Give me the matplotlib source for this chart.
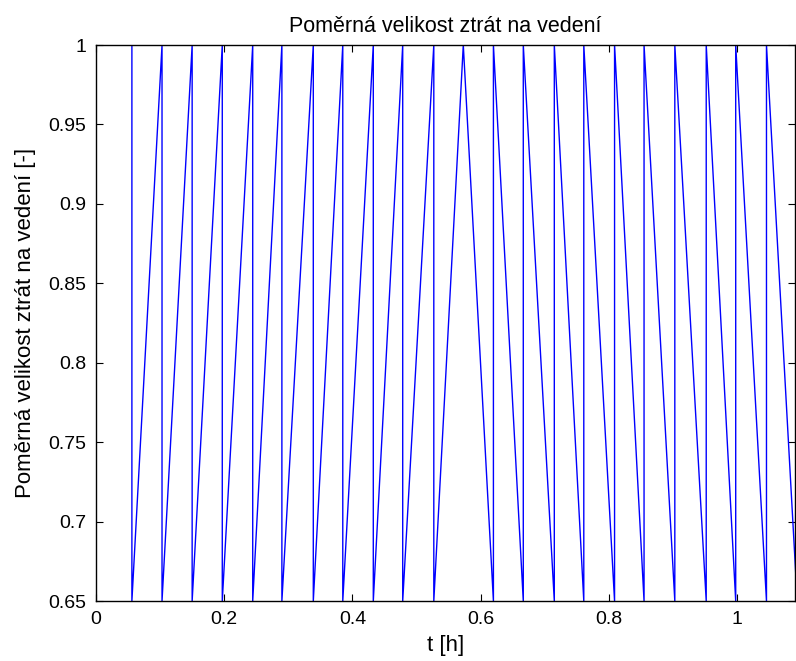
import numpy as np
import matplotlib.pyplot as plt
from matplotlib.ticker import FormatStrFormatter

plt.rcParams['font.family'] = ['Liberation Sans', 'DejaVu Sans']

# okamziky svislych skoku, t [h]
t_drop = [0.056, 0.103, 0.150, 0.197, 0.2445, 0.290, 0.339, 0.385, 0.4326, 0.4785, 0.527]
t_peak = 0.573
t_rise = [0.620, 0.6666, 0.715, 0.761, 0.809, 0.855, 0.903, 0.952, 0.998, 1.046, 1.094]
y_min = 0.65
y_max = 1.0

# sestaveni pily
t = [0.0]
p = [y_max]
for ti in t_drop:
    t += [ti, ti]
    p += [y_max, y_min]
t.append(t_peak)
p.append(y_max)
for ti in t_rise:
    t += [ti, ti]
    p += [y_min, y_max]

fig = plt.figure(figsize=(7.96, 6.61), dpi=100)
ax = fig.add_axes([96/796, 60/661, 699/796, 556/661])
ax.plot(t, p, color='#0000FF', lw=1.0)

ax.set_xlim(0, 1.0905)
ax.set_ylim(0.65, 1.0)
ax.set_xticks([0, 0.2, 0.4, 0.6, 0.8, 1.0])
ax.set_yticks([0.65, 0.7, 0.75, 0.8, 0.85, 0.9, 0.95, 1.0])
ax.xaxis.set_major_formatter(FormatStrFormatter('%g'))
ax.yaxis.set_major_formatter(FormatStrFormatter('%g'))
ax.tick_params(direction='in', top=True, right=True, length=5, width=0.8,
               labelsize=14, pad=7)
for s in ax.spines.values():
    s.set_linewidth(1.0)

ax.set_title("Poměrná velikost ztrát na vedení", fontsize=15.5, pad=9)
ax.set_xlabel("t [h]", fontsize=16, labelpad=5)
ax.set_ylabel("Poměrná velikost ztrát na vedení [-]", fontsize=16, labelpad=9)

fig.savefig("out.png", dpi=100)
